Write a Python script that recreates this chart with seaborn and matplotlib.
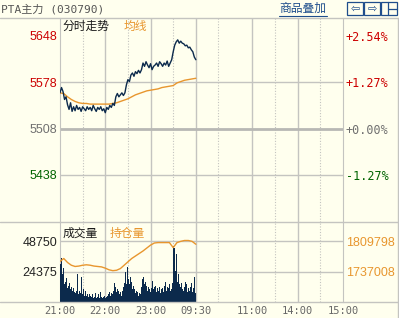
import matplotlib
matplotlib.use("Agg")
import matplotlib.pyplot as plt
import seaborn as sns
import pandas as pd
from matplotlib.patches import Rectangle
from matplotlib.lines import Line2D

# ---------------- data ----------------
prev_close = 5508
price_minutes = list(range(0, 181, 2))
price = [5562, 5570, 5564, 5552, 5556, 5544, 5537, 5547, 5534, 5541,
         5535, 5543, 5537, 5540, 5534, 5541, 5538, 5535, 5541, 5537,
         5540, 5535, 5543, 5538, 5534, 5540, 5537, 5541, 5535, 5538,
         5532, 5540, 5537, 5543, 5540, 5546, 5543, 5556, 5561, 5556,
         5559, 5562, 5558, 5562, 5574, 5582, 5579, 5589, 5592, 5587,
         5594, 5591, 5596, 5592, 5597, 5607, 5602, 5609, 5604, 5600,
         5606, 5597, 5602, 5604, 5607, 5602, 5609, 5606, 5602, 5607,
         5604, 5610, 5602, 5607, 5612, 5624, 5634, 5639, 5642, 5637,
         5640, 5637, 5636, 5633, 5634, 5630, 5631, 5627, 5624, 5616,
         5612]
avg_minutes = list(range(0, 181, 5))
avg_price = [5562, 5561, 5556, 5552, 5549, 5547, 5546, 5546, 5545, 5545,
             5545, 5545, 5545, 5545, 5546, 5547, 5549, 5551, 5553, 5556,
             5559, 5561, 5563, 5565, 5566, 5567, 5568, 5570, 5571, 5572,
             5573, 5577, 5579, 5581, 5582, 5583, 5584]
oi_minutes = list(range(0, 181, 5))
open_interest = [1760900, 1768000, 1758500, 1752000, 1749000, 1750000, 1752000,
                 1753000, 1752000, 1750000, 1749000, 1748000, 1745000, 1741000,
                 1739000, 1740000, 1744000, 1752000, 1760000, 1768000, 1774000,
                 1780000, 1786000, 1793000, 1800000, 1805000, 1806000, 1806000,
                 1806000, 1806000, 1794000, 1806000, 1809000, 1811000, 1811000,
                 1809000, 1802000]
vol_minutes = list(range(0, 181))
volume = [34000, 30000, 35000, 22000, 18000, 27000, 14000, 16000, 12000, 19000,
          11000, 13000, 9000, 15000, 10000, 12000, 23000, 9000, 11000, 8000,
          10000, 7000, 9000, 22000, 8000, 6000, 9000, 7000, 20000, 8000,
          6000, 10000, 5000, 7000, 9000, 5000, 6000, 11000, 4000, 6000,
          5000, 8000, 4000, 6000, 3000, 5000, 4000, 7000, 3000, 5000,
          4000, 6000, 3000, 5000, 8000, 4000, 3000, 6000, 4000, 5000,
          3000, 7000, 4000, 5000, 6000, 4000, 8000, 5000, 7000, 10000,
          6000, 9000, 15000, 41000, 12000, 8000, 10000, 7000, 9000, 6000,
          8000, 5000, 7000, 9000, 12000, 15000, 19000, 24000, 14000, 28000,
          32000, 18000, 14000, 20000, 12000, 16000, 10000, 13000, 8000, 10000,
          7000, 9000, 6000, 8000, 5000, 7000, 9000, 6000, 12000, 18000,
          37000, 20000, 14000, 16000, 11000, 13000, 9000, 12000, 15000, 10000,
          8000, 11000, 14000, 17000, 10000, 12000, 9000, 13000, 8000, 11000,
          15000, 9000, 12000, 7000, 10000, 19000, 11000, 8000, 13000, 10000,
          16000, 9000, 12000, 8000, 11000, 14000, 9000, 12000, 10000, 15000,
          45000, 30000, 43000, 25000, 38000, 20000, 16000, 22000, 14000, 18000,
          12000, 15000, 10000, 13000, 9000, 12000, 16000, 10000, 14000, 8000,
          11000, 13000, 9000, 12000, 15000, 10000, 8000, 11000, 20000, 9000,
          7000]

price_ticks = [5648, 5578, 5508, 5438]
price_tick_labels = ["5648", "5578", "5508", "5438"]
pct_labels = ["+2.54%", "+1.27%", "+0.00%", "-1.27%"]
vol_ticks = [48750, 24375]
vol_tick_labels = ["48750", "24375"]
oi_ticks = [1809798, 1737008]
oi_tick_labels = ["1809798", "1737008"]
time_pos = [0, 60, 120, 180, 255, 315, 375]
time_labels = ["21:00", "22:00", "23:00", "09:30", "11:00", "14:00", "15:00"]
solid_grid = [60, 120, 180, 255, 315]
dotted_grid = [30, 90, 150, 210, 285, 345]

# ---------------- style ----------------
sns.set_style("white")
plt.rcParams["font.family"] = ["Liberation Sans", "Noto Sans CJK SC", "DejaVu Sans"]

BG = "#FFFFEE"
GRID = "#C4C4C0"
NAVY = "#0C2A4C"
ORANGE = "#E8962E"
RED = "#CC0000"
GREEN = "#006400"
GRAY = "#707070"

W, H = 399, 318
def fx(x): return x / W
def fy(y): return 1 - y / H

fig = plt.figure(figsize=(3.99, 3.18), dpi=100, facecolor=BG)
ax = fig.add_axes([fx(60), fy(222), fx(343) - fx(60), fy(18) - fy(222)], facecolor=BG)
axv = fig.add_axes([fx(60), fy(302), fx(343) - fx(60), fy(222) - fy(302)], facecolor=BG)

# ---------------- price panel ----------------
price_df = pd.DataFrame({"minute": price_minutes, "price": price})
avg_df = pd.DataFrame({"minute": avg_minutes, "avg": avg_price})
for m in solid_grid:
    ax.axvline(m, color=GRID, lw=1, zorder=1)
for m in dotted_grid:
    ax.axvline(m, color=GRID, lw=0.8, ls=(0, (1, 1.5)), zorder=1)
for p in [5578, 5438]:
    ax.axhline(p, color=GRID, lw=1, zorder=1)
ax.axhline(prev_close, color="#B8B8B4", lw=2, zorder=1)

sns.lineplot(data=avg_df, x="minute", y="avg", color=ORANGE, lw=1, ax=ax,
             estimator=None, zorder=3)
sns.lineplot(data=price_df, x="minute", y="price", color=NAVY, lw=1, ax=ax,
             estimator=None, zorder=4)
ax.set_xlim(0, 375)
ax.set_ylim(5367, 5675)
ax.set_xlabel("")
ax.set_ylabel("")
ax.set_xticks([])
ax.set_yticks(price_ticks)
ax.set_yticklabels(price_tick_labels, fontsize=9)
for lab, c in zip(ax.get_yticklabels(), [RED, RED, GRAY, GREEN]):
    lab.set_color(c)
ax.tick_params(axis="y", length=0, pad=2)
for s in ax.spines.values():
    s.set_visible(False)
ax.spines["left"].set_visible(True)
ax.spines["left"].set_color(GRID)

axp = ax.twinx()
axp.set_ylim(ax.get_ylim())
axp.set_yticks(price_ticks)
axp.set_yticklabels(pct_labels, fontsize=8.5, family="DejaVu Sans Mono")
for lab, c in zip(axp.get_yticklabels(), [RED, RED, GRAY, GREEN]):
    lab.set_color(c)
axp.tick_params(axis="y", length=0, pad=2)
for s in axp.spines.values():
    s.set_visible(False)
axp.spines["right"].set_visible(True)
axp.spines["right"].set_color(GRID)

ax.text(0.01, 0.958, "分时走势", transform=ax.transAxes, fontsize=8.5,
        color="#1A1A1A", va="center", ha="left", family=["Noto Sans CJK SC"])
ax.text(0.225, 0.958, "均线", transform=ax.transAxes, fontsize=8.5,
        color=ORANGE, va="center", ha="left", family=["Noto Sans CJK SC"])

# ---------------- volume panel ----------------
for m in solid_grid:
    axv.axvline(m, color=GRID, lw=1, zorder=1)
for m in dotted_grid:
    axv.axvline(m, color=GRID, lw=0.8, ls=(0, (1, 1.5)), zorder=1)
for v in vol_ticks:
    axv.axhline(v, color=GRID, lw=1, zorder=1)

sns.barplot(x=vol_minutes, y=volume, native_scale=True, width=1, color=NAVY,
            saturation=1, linewidth=0, errorbar=None, ax=axv, zorder=3)
axv.set_xlim(0, 375)
axv.set_ylim(0, 48750 * 80 / 61)
axv.set_xlabel("")
axv.set_ylabel("")
axv.set_yticks(vol_ticks)
axv.set_yticklabels(vol_tick_labels, fontsize=9, color="#222222")
axv.set_xticks(time_pos)
axv.set_xticklabels(time_labels, fontsize=7.5, color="#666666", family="DejaVu Sans Mono")
axv.tick_params(axis="both", length=0, pad=2)
axv.tick_params(axis="x", pad=3)
for s in axv.spines.values():
    s.set_visible(False)
axv.spines["left"].set_visible(True)
axv.spines["left"].set_color(GRID)

axo = axv.twinx()
oi_df = pd.DataFrame({"minute": oi_minutes, "oi": open_interest})
sns.lineplot(data=oi_df, x="minute", y="oi", color=ORANGE, lw=1, ax=axo,
             estimator=None, zorder=4)
span = oi_ticks[0] - oi_ticks[1]
oi_bottom = oi_ticks[1] - span
axo.set_ylim(oi_bottom, oi_bottom + span * 80 / 30.5)
axo.set_xlim(0, 375)
axo.set_xlabel("")
axo.set_ylabel("")
axo.set_yticks(oi_ticks)
axo.set_yticklabels(oi_tick_labels, fontsize=9, color=ORANGE)
axo.tick_params(axis="y", length=0, pad=2)
for s in axo.spines.values():
    s.set_visible(False)
axo.spines["right"].set_visible(True)
axo.spines["right"].set_color(GRID)

axv.text(0.01, 0.86, "成交量", transform=axv.transAxes, fontsize=8.5,
         color="#1A1A1A", va="center", ha="left", family=["Noto Sans CJK SC"])
axv.text(0.175, 0.86, "持仓量", transform=axv.transAxes, fontsize=8.5,
         color=ORANGE, va="center", ha="left", family=["Noto Sans CJK SC"])

# ---------------- frame and header ----------------
for yy in [18, 222, 302]:
    fig.add_artist(Line2D([0, 1], [fy(yy), fy(yy)], color=GRID, lw=1))
fig.add_artist(Line2D([fx(398), fx(398)], [fy(18), 0], color=GRID, lw=1))

fig.text(fx(1), fy(9), "PTA主力 (030790)", fontsize=8, color="#555555",
         va="center", ha="left", family=["DejaVu Sans Mono", "Noto Sans CJK SC"])
fig.text(fx(279), fy(8.5), "商品叠加", fontsize=8.5, color="#1F4E8C",
         va="center", ha="left", family=["Noto Sans CJK SC"])
fig.add_artist(Line2D([fx(279), fx(327)], [fy(16), fy(16)], color="#1F4E8C", lw=0.8))

icon_c = "#1F4E8C"
for i, (x0, glyph) in enumerate([(347, "⇦"), (364, "⇨"), (381, "")]):
    fig.add_artist(Rectangle((fx(x0), fy(15)), fx(16), fy(2) - fy(15),
                             fill=False, edgecolor=icon_c, lw=0.9))
    if glyph:
        fig.text(fx(x0 + 8), fy(8.5), glyph, fontsize=8, color=icon_c,
                 ha="center", va="center", family=["DejaVu Sans"])
fig.add_artist(Line2D([fx(388), fx(388)], [fy(2), fy(15)], color=icon_c, lw=0.9))
fig.add_artist(Line2D([fx(388), fx(397)], [fy(8.5), fy(8.5)], color=icon_c, lw=0.9))

fig.savefig("out.png", dpi=100, facecolor=BG)
